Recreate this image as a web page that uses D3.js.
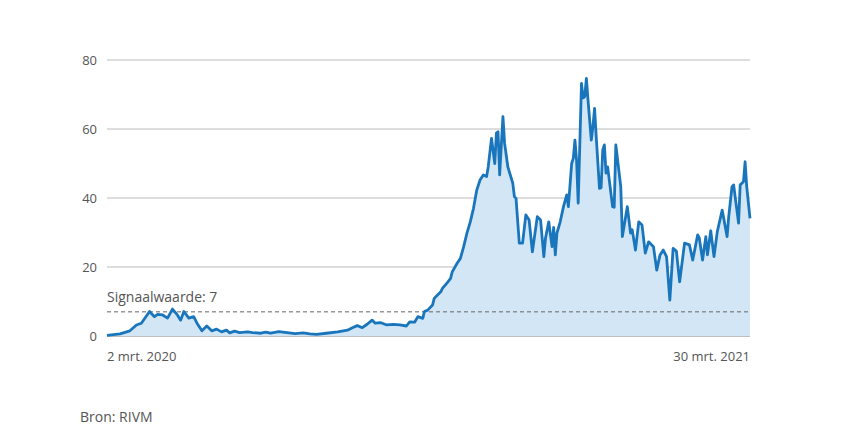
<!DOCTYPE html>
<html>
<head>
<meta charset="utf-8">
<script src="https://cdn.jsdelivr.net/npm/d3@7"></script>
<style>
  html, body { margin: 0; padding: 0; background: #fff; }
  svg { display: block; }
  text { font-family: "Open Sans", "Noto Sans", sans-serif; fill: #555; }
</style>
</head>
<body>
<svg id="chart" width="850" height="425"></svg>
<script>
// Days since 2 mrt. 2020
const dayOffsets = [0, 8, 14, 18, 21, 26, 29, 31, 34, 37, 40, 43, 45, 47, 50, 53, 55, 58, 61, 64,
  67, 70, 73, 75, 78, 81, 86, 89, 94, 97, 100, 105, 110, 115, 120, 124, 128, 134, 141, 147, 150, 153, 156, 159,
  162, 164, 167, 171, 175, 179, 183, 185, 188, 190, 193, 194, 196, 199, 200, 202, 204, 205, 208, 210,
  211, 214, 216, 218, 220, 222, 224, 226, 228, 230, 232, 233, 235, 237, 238, 239, 240, 242, 243, 245,
  248, 249, 250, 252, 254, 256, 258, 260, 263, 265, 267, 268, 270, 272, 273, 274, 275, 277, 279, 281,
  282, 284, 285, 286, 287, 288, 290, 291, 292, 293, 294, 296, 297, 298, 299, 301, 302, 303, 304, 305,
  306, 309, 310, 311, 314, 315, 318, 320, 321, 323, 325, 327, 329, 331, 334, 336, 338, 340, 342, 344,
  346, 348, 350, 353, 356, 358, 361, 362, 364, 366, 367, 369, 371, 373, 376, 379, 380, 382, 383, 386,
  387, 389, 390, 391, 393];
const values = [0.2, 0.6, 1.5, 3.2, 3.7, 7.1, 5.6, 6.3, 6.1, 5.2, 7.8, 6.1, 4.6, 7.1, 5.2, 5.6, 3.7, 1.5, 2.9, 1.5,
  2.0, 1.2, 1.7, 0.9, 1.4, 1.0, 1.2, 1.0, 0.8, 1.1, 0.8, 1.3, 1.0, 0.7, 0.9, 0.6, 0.5, 0.8, 1.2, 1.7, 2.4, 3.0, 2.4, 3.4,
  4.6, 3.7, 3.9, 3.2, 3.4, 3.2, 2.9, 4.1, 4.0, 5.6, 5.1, 7.1, 7.5, 9.0, 10.9, 11.9, 12.8, 13.8, 15.5, 16.7,
  18.6, 21.1, 22.5, 25.9, 29.8, 33.0, 37.0, 42.3, 45.2, 46.7, 46.2, 49.0, 57.3, 50.0, 58.8, 59.2, 46.7, 63.6, 55.9, 49.0,
  44.3, 40.4, 39.9, 26.9, 26.9, 35.1, 33.6, 24.4, 34.6, 33.6, 23.0, 28.3, 33.1, 25.9, 31.5, 23.5, 29.8, 33.1, 37.5, 40.9,
  37.5, 50.0, 51.5, 56.8, 51.0, 38.5, 73.2, 69.0, 69.4, 74.7, 68.4, 56.8, 60.7, 66.0, 57.8, 42.8, 43.0, 53.9, 55.4, 47.2,
  49.0, 37.5, 37.3, 55.4, 43.3, 28.8, 37.5, 29.8, 30.8, 24.9, 33.1, 32.2, 24.0, 27.3, 25.9, 19.1, 23.5, 24.9, 23.0, 10.4,
  25.4, 24.6, 15.7, 26.9, 26.4, 22.0, 29.3, 28.4, 22.0, 28.8, 23.5, 30.5, 23.0, 30.2, 36.5, 28.8, 34.6, 43.3, 43.8, 32.7,
  43.8, 44.7, 50.5, 43.3, 34.1];
const yTicks = [0, 20, 40, 60, 80];
const xTickLabels = ["2 mrt. 2020", "30 mrt. 2021"];
const signalValue = 7;
const signalLabel = "Signaalwaarde: 7";
const sourceLabel = "Bron: RIVM";

const start = new Date(2020, 2, 2);
const end = new Date(2021, 2, 30);
const data = dayOffsets.map((d, i) => ({ date: d3.timeDay.offset(start, d), value: values[i] }));

const svg = d3.select("#chart");
const mLeft = 107, mRight = 750, mTop = 60, mBottom = 336;

const x = d3.scaleTime().domain([start, end]).range([mLeft, mRight]);
const y = d3.scaleLinear().domain([0, 80]).range([mBottom, mTop]);

// gridlines
svg.append("g").selectAll("line").data(yTicks).join("line")
  .attr("x1", mLeft).attr("x2", mRight)
  .attr("y1", d => y(d)).attr("y2", d => y(d))
  .attr("stroke", d => d === 0 ? "#a8a8a8" : "#d2d2d2")
  .attr("stroke-width", 1.5);

// y tick labels
svg.append("g").selectAll("text").data(yTicks).join("text")
  .attr("x", 97).attr("y", d => y(d)).attr("dy", "0.35em")
  .attr("text-anchor", "end").attr("font-size", 13)
  .text(d => d);

// area
const area = d3.area().x(d => x(d.date)).y0(y(0)).y1(d => y(d.value));
svg.append("path").datum(data).attr("d", area).attr("fill", "#d3e6f5");

// signal line
svg.append("line")
  .attr("x1", mLeft).attr("x2", mRight)
  .attr("y1", y(signalValue)).attr("y2", y(signalValue))
  .attr("stroke", "#666").attr("stroke-width", 1).attr("stroke-dasharray", "4,3");
svg.append("text").attr("x", mLeft).attr("y", y(signalValue) - 10)
  .attr("font-size", 14).text(signalLabel);

// line
const line = d3.line().x(d => x(d.date)).y(d => y(d.value));
svg.append("path").datum(data).attr("d", line)
  .attr("fill", "none").attr("stroke", "#1a76bc").attr("stroke-width", 2.8)
  .attr("stroke-linejoin", "round");

// x labels
svg.append("text").attr("x", x(start)).attr("y", 356).attr("dy", "0.35em")
  .attr("font-size", 13).attr("text-anchor", "start").text(xTickLabels[0]);
svg.append("text").attr("x", x(end)).attr("y", 356).attr("dy", "0.35em")
  .attr("font-size", 13).attr("text-anchor", "end").text(xTickLabels[1]);

// source
svg.append("text").attr("x", 80).attr("y", 417).attr("dy", "0.35em")
  .attr("font-size", 14).text(sourceLabel);
</script>
</body>
</html>
